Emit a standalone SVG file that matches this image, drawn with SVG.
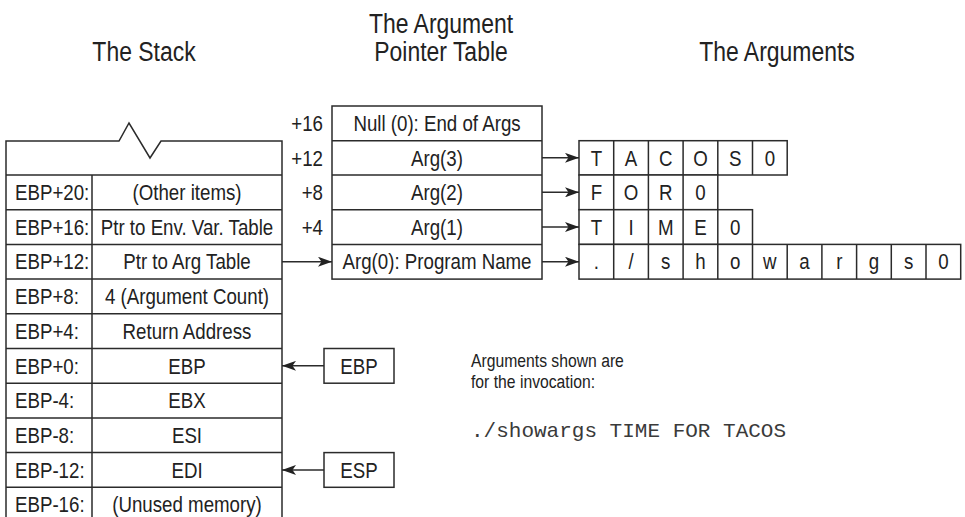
<svg xmlns="http://www.w3.org/2000/svg" width="965" height="517" viewBox="0 0 965 517">
<defs>
<style>
.ln{fill:none;stroke:#2b2b2b;stroke-width:1.5}
.bx{fill:#fff;stroke:#2b2b2b;stroke-width:1.5}
text{font-family:"Liberation Sans",Arial,sans-serif;fill:#222;font-size:22px}
.h{font-size:27px;text-anchor:middle}
.c{text-anchor:middle}
.e{text-anchor:end}
.n{font-size:18.5px}
.m{font-family:"Liberation Mono","Courier New",monospace;font-size:21px;fill:#3a3a3a}
</style>
<marker id="ah" viewBox="0 0 14 10" refX="14" refY="5" markerWidth="14" markerHeight="10" markerUnits="userSpaceOnUse" orient="auto">
<path d="M0,0 L14,5 L0,10 L3.5,5 Z" fill="#222"/>
</marker>
</defs>
<rect width="965" height="517" fill="#fff"/>

<g id="headers">
<text class="h" transform="translate(144,61) scale(0.85,1)">The Stack</text>
<text class="h" transform="translate(441,33) scale(0.85,1)">The Argument</text>
<text class="h" transform="translate(441,61) scale(0.85,1)">Pointer Table</text>
<text class="h" transform="translate(777,61) scale(0.85,1)">The Arguments</text>
</g>

<g id="stack">
<path class="ln" d="M6,517 V141 H119 L129,123 L150,158 L161,141 H282 V517"/>
<path class="ln" d="M6,175 H282 M6,209.7 H282 M6,244.4 H282 M6,279.1 H282 M6,313.8 H282 M6,348.5 H282 M6,383.2 H282 M6,417.9 H282 M6,452.6 H282 M6,487.3 H282 M92,175 V517"/>
<text transform="translate(15,200) scale(0.85,1)">EBP+20:</text><text class="c" transform="translate(187,200) scale(0.85,1)">(Other items)</text>
<text transform="translate(15,234.7) scale(0.85,1)">EBP+16:</text><text class="c" transform="translate(187,234.7) scale(0.85,1)">Ptr to Env. Var. Table</text>
<text transform="translate(15,269.4) scale(0.85,1)">EBP+12:</text><text class="c" transform="translate(187,269.4) scale(0.85,1)">Ptr to Arg Table</text>
<text transform="translate(15,304.1) scale(0.85,1)">EBP+8:</text><text class="c" transform="translate(187,304.1) scale(0.85,1)">4 (Argument Count)</text>
<text transform="translate(15,338.8) scale(0.85,1)">EBP+4:</text><text class="c" transform="translate(187,338.8) scale(0.85,1)">Return Address</text>
<text transform="translate(15,373.5) scale(0.85,1)">EBP+0:</text><text class="c" transform="translate(187,373.5) scale(0.85,1)">EBP</text>
<text transform="translate(15,408.2) scale(0.85,1)">EBP-4:</text><text class="c" transform="translate(187,408.2) scale(0.85,1)">EBX</text>
<text transform="translate(15,442.9) scale(0.85,1)">EBP-8:</text><text class="c" transform="translate(187,442.9) scale(0.85,1)">ESI</text>
<text transform="translate(15,477.6) scale(0.85,1)">EBP-12:</text><text class="c" transform="translate(187,477.6) scale(0.85,1)">EDI</text>
<text transform="translate(15,512.3) scale(0.85,1)">EBP-16:</text><text class="c" transform="translate(187,512.3) scale(0.85,1)">(Unused memory)</text>
</g>

<g id="pointer-table">
<rect class="bx" x="332" y="106" width="210" height="173.1"/>
<path class="ln" d="M332,140.7 H542 M332,175 H542 M332,209.7 H542 M332,244.4 H542"/>
<text class="c" transform="translate(437,131) scale(0.85,1)">Null (0): End of Args</text>
<text class="c" transform="translate(437,165.7) scale(0.85,1)">Arg(3)</text>
<text class="c" transform="translate(437,200) scale(0.85,1)">Arg(2)</text>
<text class="c" transform="translate(437,234.7) scale(0.85,1)">Arg(1)</text>
<text class="c" transform="translate(437,269.4) scale(0.85,1)">Arg(0): Program Name</text>
<text class="e" transform="translate(323,131) scale(0.85,1)">+16</text>
<text class="e" transform="translate(323,165.7) scale(0.85,1)">+12</text>
<text class="e" transform="translate(323,200) scale(0.85,1)">+8</text>
<text class="e" transform="translate(323,234.7) scale(0.85,1)">+4</text>
</g>

<g id="arg3">
<rect class="bx" x="579" y="140.7" width="208.2" height="34.3"/>
<path class="ln" d="M613.7,140.7 V175 M648.4,140.7 V175 M683.1,140.7 V175 M717.8,140.7 V175 M752.5,140.7 V175"/>
<text class="c" transform="translate(596.35,165.7) scale(0.85,1)">T</text><text class="c" transform="translate(631.05,165.7) scale(0.85,1)">A</text><text class="c" transform="translate(665.75,165.7) scale(0.85,1)">C</text><text class="c" transform="translate(700.45,165.7) scale(0.85,1)">O</text><text class="c" transform="translate(735.15,165.7) scale(0.85,1)">S</text><text class="c" transform="translate(769.85,165.7) scale(0.85,1)">0</text>
</g>
<g id="arg2">
<rect class="bx" x="579" y="175" width="138.8" height="34.7"/>
<path class="ln" d="M613.7,175 V209.7 M648.4,175 V209.7 M683.1,175 V209.7"/>
<text class="c" transform="translate(596.35,200) scale(0.85,1)">F</text><text class="c" transform="translate(631.05,200) scale(0.85,1)">O</text><text class="c" transform="translate(665.75,200) scale(0.85,1)">R</text><text class="c" transform="translate(700.45,200) scale(0.85,1)">0</text>
</g>
<g id="arg1">
<rect class="bx" x="579" y="209.7" width="173.5" height="34.7"/>
<path class="ln" d="M613.7,209.7 V244.4 M648.4,209.7 V244.4 M683.1,209.7 V244.4 M717.8,209.7 V244.4"/>
<text class="c" transform="translate(596.35,234.7) scale(0.85,1)">T</text><text class="c" transform="translate(631.05,234.7) scale(0.85,1)">I</text><text class="c" transform="translate(665.75,234.7) scale(0.85,1)">M</text><text class="c" transform="translate(700.45,234.7) scale(0.85,1)">E</text><text class="c" transform="translate(735.15,234.7) scale(0.85,1)">0</text>
</g>
<g id="arg0">
<rect class="bx" x="579" y="244.4" width="381.7" height="34.7"/>
<path class="ln" d="M613.7,244.4 V279.1 M648.4,244.4 V279.1 M683.1,244.4 V279.1 M717.8,244.4 V279.1 M752.5,244.4 V279.1 M787.2,244.4 V279.1 M821.9,244.4 V279.1 M856.6,244.4 V279.1 M891.3,244.4 V279.1 M926,244.4 V279.1"/>
<text class="c" transform="translate(596.35,269.4) scale(0.85,1)">.</text><text class="c" transform="translate(631.05,269.4) scale(0.85,1)">/</text><text class="c" transform="translate(665.75,269.4) scale(0.85,1)">s</text><text class="c" transform="translate(700.45,269.4) scale(0.85,1)">h</text><text class="c" transform="translate(735.15,269.4) scale(0.85,1)">o</text><text class="c" transform="translate(769.85,269.4) scale(0.85,1)">w</text><text class="c" transform="translate(804.55,269.4) scale(0.85,1)">a</text><text class="c" transform="translate(839.25,269.4) scale(0.85,1)">r</text><text class="c" transform="translate(873.95,269.4) scale(0.85,1)">g</text><text class="c" transform="translate(908.65,269.4) scale(0.85,1)">s</text><text class="c" transform="translate(943.35,269.4) scale(0.85,1)">0</text>
</g>

<g id="ebp-reg">
<rect class="bx" x="324" y="348.5" width="70" height="34.7"/>
<text class="c" transform="translate(359,373.5) scale(0.85,1)">EBP</text>
</g>
<g id="esp-reg">
<rect class="bx" x="324" y="452.6" width="70" height="34.7"/>
<text class="c" transform="translate(359,477.6) scale(0.85,1)">ESP</text>
</g>

<g id="note">
<text class="n" transform="translate(471,367) scale(0.85,1)">Arguments shown are</text>
<text class="n" transform="translate(471,388) scale(0.85,1)">for the invocation:</text>
<text class="m" x="471" y="437">./showargs TIME FOR TACOS</text>
</g>

<g id="connectors">
<path class="ln" d="M282,261.75 H332" marker-end="url(#ah)"/>
<path class="ln" d="M542,157.85 H579" marker-end="url(#ah)"/>
<path class="ln" d="M542,192.35 H579" marker-end="url(#ah)"/>
<path class="ln" d="M542,227.05 H579" marker-end="url(#ah)"/>
<path class="ln" d="M542,261.75 H579" marker-end="url(#ah)"/>
<path class="ln" d="M324,365.85 H282" marker-end="url(#ah)"/>
<path class="ln" d="M324,469.95 H282" marker-end="url(#ah)"/>
</g>
</svg>
